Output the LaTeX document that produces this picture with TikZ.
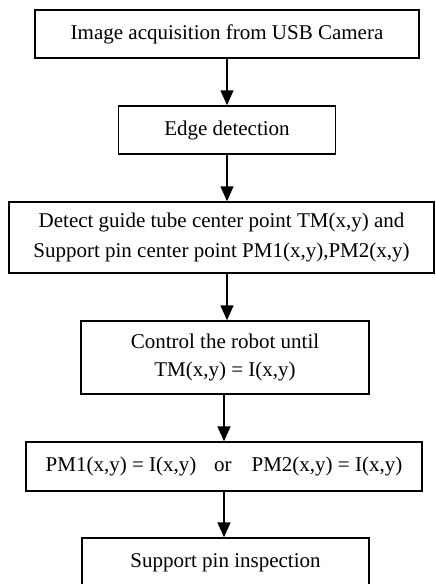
\documentclass[tikz,border=0pt]{standalone}
\usepackage{fontspec}
\setmainfont{Liberation Serif}
\usetikzlibrary{arrows.meta}
\begin{document}
\begin{tikzpicture}[x=1pt,y=-1pt,
  box/.style={draw,line width=1.5pt,inner sep=0pt,align=center,
    font=\fontsize{21}{30}\selectfont},
  arr/.style={line width=1.6pt,-{Triangle[width=13pt,length=15pt]}}]
\useasboundingbox (0,0) rectangle (436,584);
\clip (0,0) rectangle (436,584);
\node[box,minimum width=384pt,minimum height=48pt] (b1) at (227,34) {Image acquisition from USB Camera};
\node[box,minimum width=217pt,minimum height=48pt] (b2) at (227,130) {Edge detection};
\node[box,minimum width=425pt,minimum height=71pt] (b3) at (221.5,237.5) {Detect guide tube center point TM(x,y) and\\Support pin center point PM1(x,y),PM2(x,y)};
\node[box,minimum width=288pt,minimum height=73pt,font=\fontsize{21}{28}\selectfont] (b4) at (225,357.5) {Control the robot until\\TM(x,y) = I(x,y)};
\node[box,minimum width=396pt,minimum height=49pt] (b5) at (224,466.5) {PM1(x,y) = I(x,y)\hspace{0.6em} or\hspace{0.7em} PM2(x,y) = I(x,y)};
\node[box,minimum width=287pt,minimum height=50pt] (b6) at (225.5,563) {Support pin inspection};
\draw[arr] (b1.south) -- (b1.south |- b2.north);
\draw[arr] (b2.south) -- (b2.south |- b3.north);
\draw[arr] (b3.south -| b2.south) -- (b2.south |- b4.north);
\draw[arr] (b4.south -| b5.south) -- (b5.north);
\draw[arr] (b5.south) -- (b5.south |- b6.north);
\end{tikzpicture}
\end{document}
